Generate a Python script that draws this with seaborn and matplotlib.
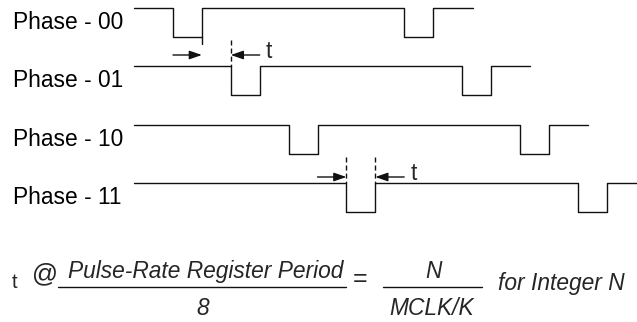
import matplotlib
matplotlib.use("Agg")
import matplotlib.pyplot as plt
import numpy as np
import pandas as pd
import seaborn as sns

# ---- data ----
phase_labels = ["Phase - 00", "Phase - 01", "Phase - 10", "Phase - 11"]
pulse_starts = [[0, 8], [2, 10], [4, 12], [6, 14]]   # in pulse-width units
pulse_width = 1
pulse_depth = 1
trace_start = -1.35
trace_ends = [10.38, 12.35, 14.36, 16.1]
high_levels = [0, -2, -4, -6]

skew_label = "t"
formula_lhs = "t"
formula_approx = "@"
formula_num = "Pulse-Rate Register Period"
formula_den = "8"
formula_eq = "="
rhs_num = "N"
rhs_den = "MCLK/K"
formula_note = "for Integer N"

# ---- style ----
sns.set_theme(style="white")
plt.rcParams["font.family"] = ["Liberation Sans", "DejaVu Sans"]

W, H = 637, 322
fig = plt.figure(figsize=(W / 100, H / 100), dpi=100)
ax = fig.add_axes([0, 0, 1, 1])

ux, x0px = 28.9, 173.0
uy, y0px = 29.15, 8.0


def dx(px):
    return (px - x0px) / ux


def dy(py):
    return -(py - y0px) / uy


# ---- waveforms ----
rows = []
for lab, starts, end, hi in zip(phase_labels, pulse_starts, trace_ends, high_levels):
    xs = [trace_start]
    ys = [hi]
    for s in starts:
        xs += [s, s, s + pulse_width, s + pulse_width]
        ys += [hi, hi - pulse_depth, hi - pulse_depth, hi]
    xs.append(end)
    ys.append(hi)
    for i, (x, y) in enumerate(zip(xs, ys)):
        rows.append(dict(phase=lab, order=i, x=x, y=y))
df = pd.DataFrame(rows)

LC = "#111111"
sns.lineplot(data=df, x="x", y="y", units="phase", estimator=None, sort=False,
             color=LC, lw=1.0, ax=ax, legend=False)

ax.set_xlim(dx(0), dx(W))
ax.set_ylim(dy(H), dy(0))
ax.axis("off")

FS = 16.4
for lab, hi in zip(phase_labels, high_levels):
    ax.text(dx(13), hi - 0.5 - 6.5 / uy, lab, fontsize=FS, va="baseline", ha="left",
            color="black")

# ---- skew annotations ----
arrow_kw = dict(arrowstyle="-|>,head_length=0.75,head_width=0.26", color=LC, lw=1.0,
                shrinkA=0, shrinkB=0, mutation_scale=10)
dash = (0, (3.6, 2.2))

# between phase 00 and 01
p00_rise = pulse_starts[0][0] + pulse_width
p01_fall = pulse_starts[1][0]
ya = dy(55)
ax.plot([p00_rise, p00_rise], [high_levels[0] - pulse_depth, dy(44)], color=LC, lw=1.0)
ax.plot([p01_fall, p01_fall], [dy(40), high_levels[1]], color=LC, lw=1.0, ls=dash)
ax.annotate("", xy=(p00_rise, ya), xytext=(p00_rise - 1, ya), arrowprops=arrow_kw)
ax.annotate("", xy=(p01_fall, ya), xytext=(p01_fall + 1, ya), arrowprops=arrow_kw)
ax.text(p01_fall + 1.22, ya - 3 / uy, skew_label, fontsize=FS, va="baseline", ha="left")

# between phase 10 and 11
p11_fall = pulse_starts[3][0]
p11_rise = p11_fall + pulse_width
yb = dy(177)
for xv in (p11_fall, p11_rise):
    ax.plot([xv, xv], [dy(157), high_levels[3]], color=LC, lw=1.0, ls=dash)
ax.annotate("", xy=(p11_fall, yb), xytext=(p11_fall - 1, yb), arrowprops=arrow_kw)
ax.annotate("", xy=(p11_rise, yb), xytext=(p11_rise + 1, yb), arrowprops=arrow_kw)
ax.text(p11_rise + 1.22, yb - 3 / uy, skew_label, fontsize=FS, va="baseline", ha="left")

# ---- formula ----
ax.text(dx(12), dy(288), formula_lhs, fontsize=14.5, va="baseline", ha="left")
ax.text(dx(32), dy(281), formula_approx, fontsize=18.5, va="baseline", ha="left")
ax.plot([dx(58), dx(346)], [dy(287), dy(287)], color=LC, lw=1.0)
ax.text(dx(206), dy(278), formula_num, fontsize=FS, style="italic", va="baseline", ha="center")
ax.text(dx(203), dy(315), formula_den, fontsize=FS, style="italic", va="baseline", ha="center")
ax.text(dx(360), dy(285.5), formula_eq, fontsize=18, va="baseline", ha="center")
ax.plot([dx(383), dx(482)], [dy(287), dy(287)], color=LC, lw=1.0)
ax.text(dx(433), dy(278), rhs_num, fontsize=FS, style="italic", va="baseline", ha="center")
ax.text(dx(432), dy(315), rhs_den, fontsize=FS, style="italic", va="baseline", ha="center")
ax.text(dx(498), dy(290), formula_note, fontsize=FS, style="italic", va="baseline", ha="left")

fig.savefig("out.png", dpi=100, facecolor="white")
